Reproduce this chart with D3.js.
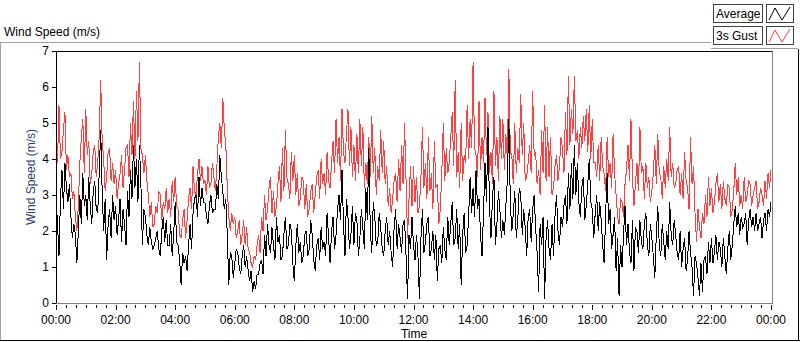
<!DOCTYPE html>
<html>
<head>
<meta charset="utf-8">
<script src="https://cdn.jsdelivr.net/npm/d3@7"></script>
<style>
  body { margin: 0; background: #fff; }
  svg { display: block; font-family: "Liberation Sans", Arial, sans-serif; }
</style>
</head>
<body>
<svg id="chart" width="800" height="342"></svg>
<script>
// one sample every 3 minutes, 00:00 .. 24:00
const sampleMinutes = 3;

// 3s gust (m/s), one row per hour
const gustSpeed = [
  4.6, 3.9, 5.5, 4.0, 4.2, 4.8, 5.3, 3.7, 4.1, 3.5, 3.6, 2.9, 3.1, 2.4, 2.0, 2.7, 3.9, 4.6, 5.1, 3.6,
  5.4, 4.1, 4.5, 3.3, 3.6, 4.2, 4.4, 3.5, 3.9, 4.6, 6.2, 4.5, 4.0, 3.1, 3.5, 4.2, 4.3, 3.4, 3.9, 3.3,
  3.7, 2.9, 3.3, 3.6, 4.1, 3.2, 3.7, 4.3, 4.4, 3.5, 5.0, 4.1, 5.6, 4.0, 5.9, 4.5, 6.7, 4.3, 4.1, 3.6,
  4.1, 3.4, 3.0, 2.4, 2.8, 2.1, 2.2, 2.7, 2.5, 3.1, 3.0, 2.3, 2.8, 2.6, 3.2, 2.5, 2.9, 2.4, 3.4, 2.8,
  3.5, 2.7, 2.6, 1.9, 1.8, 2.3, 2.6, 1.8, 2.3, 2.9, 3.2, 2.6, 3.8, 3.1, 3.0, 3.6, 4.0, 3.4, 3.8, 3.3,
  3.4, 3.0, 3.8, 3.2, 3.3, 3.9, 3.5, 3.1, 3.8, 4.6, 5.0, 4.3, 5.7, 4.8, 4.4, 3.2, 2.4, 2.0, 2.5, 2.2,
  2.4, 1.8, 2.0, 2.3, 1.6, 1.9, 2.3, 1.6, 2.1, 1.5, 1.4, 1.1, 1.0, 1.3, 1.2, 1.6, 1.9, 1.4, 2.4, 2.0,
  3.0, 2.3, 2.6, 3.2, 3.5, 2.5, 3.1, 2.4, 2.7, 3.3, 3.8, 2.8, 4.3, 3.1, 4.8, 3.5, 3.3, 2.9, 4.2, 3.4,
  4.1, 3.0, 3.6, 2.7, 2.9, 3.5, 3.4, 2.6, 3.3, 2.4, 2.6, 3.1, 3.3, 2.5, 3.0, 3.5, 3.7, 2.9, 4.0, 3.3,
  3.6, 3.0, 4.2, 3.4, 3.2, 3.9, 4.5, 3.6, 5.1, 3.9, 4.6, 3.4, 5.4, 4.2, 3.9, 4.7, 5.4, 3.8, 4.9, 3.5,
  4.4, 3.4, 4.7, 3.6, 5.1, 3.8, 4.9, 3.2, 3.9, 3.3, 4.6, 3.5, 5.2, 3.6, 4.3, 3.0, 3.8, 3.4, 4.8, 3.6,
  4.5, 3.3, 3.8, 2.7, 3.2, 2.5, 2.9, 3.4, 3.6, 2.8, 4.0, 3.1, 4.4, 3.3, 5.0, 3.4, 1.8, 2.9, 3.8, 2.7,
  3.8, 2.8, 3.5, 2.5, 2.7, 3.5, 4.9, 3.2, 3.9, 2.9, 4.6, 3.1, 3.6, 2.6, 4.5, 3.2, 3.3, 2.2, 2.6, 3.6,
  5.0, 3.4, 4.3, 3.6, 3.9, 4.6, 5.3, 3.8, 6.2, 3.5, 4.2, 3.2, 5.0, 3.4, 4.1, 3.9, 5.5, 4.0, 5.1, 4.3,
  6.7, 4.3, 4.1, 3.5, 5.6, 3.7, 4.6, 3.9, 5.7, 4.1, 5.3, 3.6, 4.2, 3.3, 5.9, 3.8, 4.6, 3.4, 5.2, 4.0,
  5.1, 3.7, 4.7, 4.0, 6.5, 4.2, 4.1, 3.3, 5.0, 3.6, 4.3, 3.9, 5.8, 4.1, 5.0, 3.4, 3.5, 3.9, 4.4, 3.6,
  5.9, 4.1, 4.2, 3.3, 3.7, 3.0, 4.8, 3.6, 5.5, 3.4, 4.9, 3.5, 4.6, 3.0, 3.2, 3.8, 4.1, 3.4, 3.8, 4.6,
  4.3, 3.6, 5.3, 4.1, 6.3, 4.4, 5.4, 4.7, 6.3, 4.5, 4.8, 4.0, 4.9, 4.3, 5.2, 4.5, 5.4, 4.2, 5.5, 4.0,
  5.1, 3.9, 3.9, 3.5, 4.4, 3.4, 4.6, 3.8, 3.6, 3.1, 4.6, 3.5, 3.9, 3.2, 4.7, 3.6, 3.0, 2.4, 2.2, 2.9,
  2.8, 2.4, 3.3, 3.7, 4.4, 3.4, 5.1, 3.5, 2.7, 3.3, 3.9, 3.1, 4.9, 3.6, 3.8, 2.9, 3.9, 3.2, 3.5, 2.8,
  3.1, 3.6, 4.4, 3.3, 4.7, 3.6, 3.5, 2.9, 3.8, 3.2, 4.0, 3.4, 4.9, 3.5, 3.9, 3.2, 3.3, 3.7, 3.8, 3.0,
  3.6, 2.9, 4.2, 3.4, 3.2, 2.6, 4.6, 3.3, 3.8, 2.5, 1.7, 2.6, 2.1, 1.8, 2.5, 2.2, 3.0, 2.4, 3.5, 2.7,
  3.2, 2.5, 2.8, 3.3, 3.6, 2.8, 3.3, 2.6, 3.4, 2.9, 2.7, 3.3, 3.2, 2.4, 2.6, 3.1, 3.9, 3.0, 3.5, 2.7,
  3.0, 2.6, 3.5, 2.8, 3.0, 3.4, 3.3, 2.7, 3.0, 3.2, 3.4, 2.6, 2.8, 3.2, 3.0, 2.7, 3.4, 2.9, 3.6, 3.2,
  3.7
];

// average (m/s)
const avgSpeed = [
  3.0, 2.2, 1.3, 2.9, 3.7, 2.6, 3.9, 3.2, 2.8, 3.3, 2.4, 1.8, 2.2, 1.9, 1.1, 2.0, 3.0, 2.2, 3.6, 2.7,
  3.0, 2.3, 3.5, 2.7, 2.2, 3.1, 3.4, 2.6, 2.5, 3.6, 4.8, 3.1, 2.0, 2.9, 1.2, 2.2, 2.6, 1.8, 3.0, 2.3,
  2.7, 1.9, 2.3, 2.9, 1.7, 2.6, 2.2, 1.6, 3.1, 2.4, 3.7, 2.9, 4.4, 3.2, 4.0, 2.8, 4.4, 3.3, 1.6, 2.6,
  2.4, 1.9, 1.6, 2.1, 1.7, 1.5, 1.6, 1.8, 2.0, 1.5, 1.3, 2.0, 2.4, 1.7, 2.3, 1.6, 1.6, 2.2, 1.3, 1.9,
  2.8, 1.7, 1.6, 1.2, 0.5, 1.4, 1.1, 1.3, 0.9, 1.6, 2.2, 1.5, 2.5, 2.9, 3.0, 2.4, 3.5, 2.7, 3.2, 2.8,
  2.8, 2.4, 2.2, 2.7, 3.0, 2.5, 2.6, 2.6, 3.3, 2.9, 4.1, 3.5, 3.1, 2.6, 2.9, 1.9, 0.5, 1.4, 1.3, 0.7,
  1.1, 1.5, 1.4, 1.0, 0.8, 1.3, 1.6, 1.0, 1.3, 0.9, 0.6, 0.9, 0.3, 0.6, 0.4, 0.8, 0.8, 1.1, 1.2, 0.8,
  1.9, 1.3, 2.2, 1.6, 1.4, 2.1, 1.6, 1.2, 2.4, 1.7, 1.9, 1.2, 1.3, 1.9, 2.4, 1.5, 1.6, 2.2, 2.0, 1.1,
  0.6, 1.6, 2.2, 1.4, 1.7, 1.1, 1.3, 1.9, 2.0, 1.3, 1.5, 2.3, 1.9, 1.2, 0.9, 1.6, 1.8, 1.2, 2.1, 1.5,
  1.7, 1.3, 2.5, 1.8, 1.1, 2.0, 2.4, 1.5, 1.9, 2.6, 3.0, 2.3, 3.7, 2.2, 1.3, 2.9, 2.4, 1.5, 1.9, 2.7,
  1.6, 2.5, 2.3, 1.3, 1.8, 2.6, 2.1, 1.5, 3.2, 2.3, 4.3, 2.0, 1.4, 2.8, 2.4, 1.6, 1.7, 2.5, 2.1, 1.5,
  1.3, 2.0, 2.4, 1.6, 2.0, 1.4, 1.0, 2.1, 2.6, 1.5, 2.2, 1.8, 1.4, 2.2, 2.3, 1.3, 0.1, 1.9, 1.5, 2.4,
  1.6, 1.2, 1.9, 1.3, 0.1, 1.8, 2.6, 1.4, 1.7, 2.2, 2.4, 1.3, 1.5, 2.0, 1.2, 1.9, 0.6, 1.5, 1.6, 1.1,
  2.1, 1.5, 1.2, 2.4, 1.6, 2.2, 2.8, 1.6, 1.8, 2.6, 1.5, 2.2, 0.5, 1.9, 2.5, 1.4, 1.6, 2.4, 3.5, 2.5,
  3.2, 2.4, 3.7, 2.6, 2.9, 1.9, 1.3, 2.5, 3.9, 2.8, 4.9, 2.7, 1.8, 2.9, 3.5, 1.6, 2.2, 3.1, 2.6, 1.8,
  2.3, 1.9, 2.7, 3.4, 5.1, 2.8, 2.0, 2.5, 3.1, 1.8, 2.3, 3.2, 3.0, 1.9, 2.6, 2.1, 1.3, 2.4, 2.6, 1.7,
  2.6, 3.0, 2.1, 1.4, 0.3, 2.2, 1.6, 2.4, 0.1, 1.8, 2.3, 1.5, 1.2, 2.2, 1.3, 2.4, 3.0, 2.0, 1.6, 2.4,
  2.1, 2.7, 3.0, 2.2, 3.6, 2.6, 3.9, 2.9, 4.4, 3.0, 3.9, 2.8, 2.4, 3.2, 3.5, 2.3, 2.7, 3.3, 4.0, 2.8,
  2.6, 1.8, 2.5, 3.0, 2.0, 2.8, 2.3, 1.6, 1.1, 2.5, 3.6, 2.2, 2.6, 1.5, 1.9, 2.4, 0.9, 1.8, 0.2, 1.6,
  1.0, 1.9, 2.7, 1.6, 2.2, 1.4, 1.1, 2.3, 0.9, 2.1, 2.0, 1.4, 2.3, 1.7, 1.5, 2.2, 2.5, 1.6, 1.3, 2.2,
  1.8, 1.3, 0.7, 1.9, 2.7, 1.6, 1.3, 2.2, 1.7, 1.2, 2.0, 1.5, 2.8, 1.9, 1.6, 2.3, 1.9, 1.4, 1.2, 2.0,
  1.0, 1.5, 1.8, 0.9, 1.2, 2.0, 1.4, 1.0, 0.2, 1.3, 1.1, 0.7, 0.2, 1.1, 0.3, 1.2, 1.3, 0.8, 1.7, 1.1,
  1.8, 1.1, 1.4, 1.9, 1.2, 1.7, 1.5, 1.0, 1.8, 1.3, 0.8, 1.5, 2.0, 1.2, 1.6, 2.2, 2.7, 2.1, 2.5, 1.9,
  2.4, 2.1, 2.2, 2.5, 1.6, 2.3, 2.6, 2.1, 2.4, 2.0, 2.5, 2.0, 2.2, 2.4, 1.8, 2.3, 2.5, 2.0, 2.6, 2.4,
  2.8
];

const yTicks = [0, 1, 2, 3, 4, 5, 6, 7];
const xTickMinutes = [0, 120, 240, 360, 480, 600, 720, 840, 960, 1080, 1200, 1320, 1440];
const xTickLabels = ['00:00', '02:00', '04:00', '06:00', '08:00', '10:00', '12:00',
                     '14:00', '16:00', '18:00', '20:00', '22:00', '00:00'];
const seriesNames = ['Average', '3s Gust'];
const seriesColors = ['#000000', '#ff4040'];

const svg = d3.select('#chart');

const plot = { left: 56, right: 772, top: 51, bottom: 303 };

const x = d3.scaleLinear().domain([0, 1440]).range([plot.left, plot.right - 1]);
const y = d3.scaleLinear().domain([0, 7]).range([plot.bottom, plot.top]);

// outer control frame
svg.append('line').attr('x1', 0).attr('x2', 711).attr('y1', 42.5).attr('y2', 42.5).attr('stroke', '#a0a0a0');
svg.append('line').attr('x1', 0.5).attr('x2', 0.5).attr('y1', 42).attr('y2', 341).attr('stroke', '#a0a0a0');
svg.append('line').attr('x1', 0).attr('x2', 800).attr('y1', 340.5).attr('y2', 340.5).attr('stroke', '#000');
svg.append('line').attr('x1', 798.5).attr('x2', 798.5).attr('y1', 49).attr('y2', 341).attr('stroke', '#000');
svg.append('line').attr('x1', 711).attr('x2', 798).attr('y1', 48.5).attr('y2', 48.5).attr('stroke', '#a0a0a0');

// graph title
svg.append('text')
  .attr('x', 4).attr('y', 36)
  .attr('font-size', 12).attr('fill', '#000')
  .text('Wind Speed (m/s)');

// clip for the traces
svg.append('clipPath').attr('id', 'plotClip')
  .append('rect')
  .attr('x', plot.left + 1).attr('y', plot.top + 1)
  .attr('width', plot.right - plot.left - 1).attr('height', plot.bottom - plot.top - 1);

const line = d3.line()
  .x((d, i) => x(i * sampleMinutes))
  .y(d => y(d));

const traces = svg.append('g').attr('clip-path', 'url(#plotClip)');

traces.append('path')
  .datum(gustSpeed)
  .attr('d', line)
  .attr('fill', 'none')
  .attr('stroke', seriesColors[1])
  .attr('stroke-width', 1)
  .attr('shape-rendering', 'crispEdges');

traces.append('path')
  .datum(avgSpeed)
  .attr('d', line)
  .attr('fill', 'none')
  .attr('stroke', seriesColors[0])
  .attr('stroke-width', 1)
  .attr('shape-rendering', 'crispEdges');

// plot frame: dark top/left, grey bottom/right
svg.append('line').attr('x1', plot.left).attr('x2', plot.right).attr('y1', plot.top + 0.5).attr('y2', plot.top + 0.5).attr('stroke', '#000');
svg.append('line').attr('x1', plot.left + 0.5).attr('x2', plot.left + 0.5).attr('y1', plot.top).attr('y2', plot.bottom + 1).attr('stroke', '#000');
svg.append('line').attr('x1', plot.left).attr('x2', plot.right + 1).attr('y1', plot.bottom + 0.5).attr('y2', plot.bottom + 0.5).attr('stroke', '#808080');
svg.append('line').attr('x1', plot.right + 0.5).attr('x2', plot.right + 0.5).attr('y1', plot.top).attr('y2', plot.bottom + 1).attr('stroke', '#808080');

// y axis
const yAxis = svg.append('g');
yAxis.selectAll('line.tick')
  .data(yTicks)
  .join('line')
  .attr('class', 'tick')
  .attr('x1', plot.left - 4).attr('x2', plot.left)
  .attr('y1', d => Math.round(y(d)) + 0.5).attr('y2', d => Math.round(y(d)) + 0.5)
  .attr('stroke', '#000');
yAxis.selectAll('text')
  .data(yTicks)
  .join('text')
  .attr('x', plot.left - 7)
  .attr('y', d => y(d))
  .attr('dy', '0.35em')
  .attr('text-anchor', 'end')
  .attr('font-size', 12)
  .text(d => d);

svg.append('text')
  .attr('transform', `translate(35,${(plot.top + plot.bottom) / 2}) rotate(-90)`)
  .attr('text-anchor', 'middle')
  .attr('font-size', 12)
  .attr('fill', '#1f3f73')
  .text('Wind Speed (m/s)');

// x axis: minor every 20 min, labels every 2 h
const xAxis = svg.append('g');
xAxis.selectAll('line.tick')
  .data(d3.range(0, 1441, 20))
  .join('line')
  .attr('class', 'tick')
  .attr('x1', d => Math.round(x(d)) + 0.5).attr('x2', d => Math.round(x(d)) + 0.5)
  .attr('y1', plot.bottom + 2)
  .attr('y2', d => plot.bottom + (d % 120 === 0 ? 7 : 5))
  .attr('stroke', '#000');
xAxis.selectAll('text')
  .data(xTickMinutes)
  .join('text')
  .attr('x', d => x(d))
  .attr('y', 324)
  .attr('text-anchor', 'middle')
  .attr('font-size', 12)
  .text((d, i) => xTickLabels[i]);

svg.append('text')
  .attr('x', (plot.left + plot.right) / 2).attr('y', 338)
  .attr('text-anchor', 'middle')
  .attr('font-size', 12)
  .text('Time');

// legend
const legend = svg.append('g');
seriesNames.forEach((name, i) => {
  const top = 4 + i * 22;
  legend.append('rect')
    .attr('x', 713.5).attr('y', top + 0.5)
    .attr('width', 49).attr('height', 18)
    .attr('fill', '#fff').attr('stroke', '#404040');
  legend.append('text')
    .attr('x', 716).attr('y', top + 14)
    .attr('font-size', 12)
    .text(name);
  legend.append('rect')
    .attr('x', 766.5).attr('y', top + 0.5)
    .attr('width', 27).attr('height', 18)
    .attr('fill', '#fff').attr('stroke', '#404040');
  legend.append('path')
    .attr('d', d3.line()([[769, top + 16], [775, top + 4], [782, top + 16], [790, top + 3]]))
    .attr('fill', 'none')
    .attr('stroke', seriesColors[i]);
});
</script>
</body>
</html>
